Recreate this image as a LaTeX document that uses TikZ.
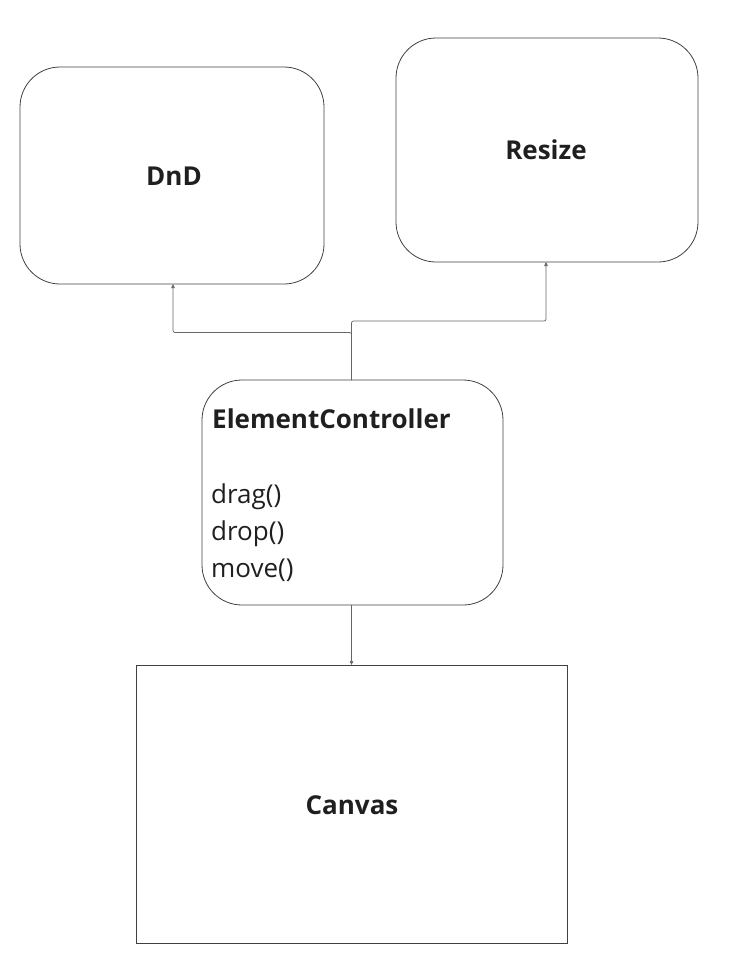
\documentclass[tikz,border=0pt]{standalone}
\usepackage{fontspec}
\setmainfont{Open Sans}
\usetikzlibrary{arrows.meta}
\begin{document}
\begin{tikzpicture}[x=1pt,y=-1pt,
  box/.style={draw=black!75,line width=0.8pt,rounded corners=40pt},
  plain/.style={draw=black!75,line width=0.8pt},
  conn/.style={draw=black!60,line width=0.7pt,-{Triangle[length=4pt,width=3.5pt]},rounded corners=2pt},
  title/.style={font=\bfseries\fontsize{26}{30}\selectfont,text=black!88,inner sep=0pt},
  meth/.style={font=\fontsize{26}{30}\selectfont,text=black!88,inner sep=0pt,anchor=base west}]
\useasboundingbox (0,0) rectangle (729,972);
\path[box] (20,67) rectangle (324,284);
\path[box] (396,38) rectangle (698,262);
\path[box] (202,380) rectangle (503,605);
\path[plain] (136,665) rectangle (567,943);
\node[title] (dnd) at (174,176) {DnD};
\node[title] (resize) at (546,150) {Resize};
\node[title,anchor=base west] (ec) at (212,428) {ElementController};
\node[meth] (m1) at (211,503) {drag()};
\node[meth] (m2) at (211,540) {drop()};
\node[meth] (m3) at (211,577) {move()};
\node[title] (canvas) at (352,805) {Canvas};
\coordinate (ectop) at (351.5,380);
\coordinate (ecbot) at (351.5,605);
\coordinate (dndbot) at (173,284);
\coordinate (resbot) at (546,262);
\coordinate (cantop) at (351.5,665);
\draw[conn] (ectop) -- (351.5,332.5) -- (173,332.5) -- (dndbot);
\draw[conn] (ectop) -- (351.5,321) -- (546,321) -- (resbot);
\draw[conn] (ecbot) -- (cantop);
\end{tikzpicture}
\end{document}
